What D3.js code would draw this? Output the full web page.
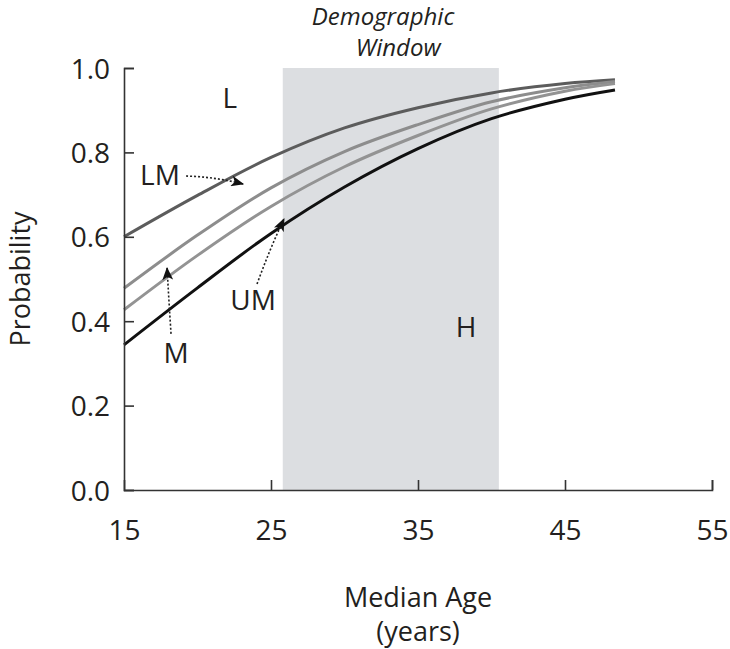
<!DOCTYPE html>
<html>
<head>
<meta charset="utf-8">
<script src="https://cdn.jsdelivr.net/npm/d3@7"></script>
<style>
body { margin: 0; background: #fff; }
text { font-family: "Open Sans", "Liberation Sans", sans-serif; fill: #231f20; }
</style>
</head>
<body>
<div id="chart"></div>
<script>
// median age (years) and probability for each curve
var ages = [15, 20, 25, 30, 35, 40, 45, 48.4];
var curveL  = [0.600, 0.698, 0.788, 0.858, 0.906, 0.941, 0.963, 0.972];
var curveLM = [0.478, 0.604, 0.716, 0.802, 0.866, 0.920, 0.953, 0.968];
var curveM  = [0.427, 0.556, 0.672, 0.766, 0.840, 0.903, 0.945, 0.963];
var curveH  = [0.344, 0.479, 0.608, 0.718, 0.809, 0.880, 0.926, 0.948];

var xTicks = [15, 25, 35, 45, 55];
var yTicks = [0.0, 0.2, 0.4, 0.6, 0.8, 1.0];
var windowRange = [25.8, 40.5];

var W = 730, H = 649;
var mLeft = 124, mRight = 712, mTop = 68, mBottom = 490;

var x = d3.scaleLinear().domain([15, 55]).range([mLeft, mRight]);
var y = d3.scaleLinear().domain([0, 1]).range([mBottom, mTop]);

var svg = d3.select("#chart").append("svg").attr("width", W).attr("height", H);

var defs = svg.append("defs");
defs.append("marker").attr("id", "head")
    .attr("viewBox", "0 0 12 10").attr("refX", 11).attr("refY", 5)
    .attr("markerWidth", 13).attr("markerHeight", 11)
    .attr("markerUnits", "userSpaceOnUse").attr("orient", "auto")
  .append("path").attr("d", "M0,0 L12,5 L0,10 L3,5 Z").attr("fill", "#111");

// demographic window band
svg.append("rect")
    .attr("x", x(windowRange[0])).attr("y", y(1))
    .attr("width", x(windowRange[1]) - x(windowRange[0]))
    .attr("height", y(0) - y(1))
    .attr("fill", "#dcdee1");

svg.append("text").attr("x", x(windowRange[0]) + 29).attr("y", 25)
    .style("font-style", "italic").style("font-size", "24px").text("Demographic");
svg.append("text").attr("x", x(windowRange[0]) + 73).attr("y", 56)
    .style("font-style", "italic").style("font-size", "24px").text("Window");

// curves
var line = d3.line()
    .x(function(d, i) { return x(ages[i]); })
    .y(function(d) { return y(d); })
    .curve(d3.curveCatmullRom);

var series = [
    { vals: curveL,  color: "#5c5c5c" },
    { vals: curveLM, color: "#8d8d8d" },
    { vals: curveM,  color: "#939393" },
    { vals: curveH,  color: "#111111" }
];
svg.selectAll("path.curve").data(series).enter().append("path")
    .attr("class", "curve")
    .attr("d", function(s) { return line(s.vals); })
    .attr("fill", "none")
    .attr("stroke", function(s) { return s.color; })
    .attr("stroke-width", 3);

// axes
var axisColor = "#333";
var xAxis = svg.append("g").attr("transform", "translate(0," + mBottom + ")")
    .call(d3.axisBottom(x).tickValues(xTicks).tickSize(-10).tickPadding(30).tickFormat(d3.format("d")));
var yAxis = svg.append("g").attr("transform", "translate(" + mLeft + ",0)")
    .call(d3.axisLeft(y).tickValues(yTicks).tickSize(-10).tickPadding(14).tickFormat(d3.format(".1f")));

[xAxis, yAxis].forEach(function(a) {
    a.select(".domain").attr("stroke", axisColor).attr("stroke-width", 1.6);
    a.selectAll(".tick line").attr("stroke", axisColor).attr("stroke-width", 1.6);
    a.selectAll(".tick text").style("font-size", "28px").attr("fill", "#231f20")
        .style("font-family", "'Open Sans', sans-serif");
});
xAxis.selectAll(".tick").filter(function(d) { return d === 15; }).select("line").remove();
yAxis.selectAll(".tick text").attr("dy", "0.36em");
xAxis.selectAll(".tick text").attr("dy", "0.71em");

svg.append("text").attr("x", (mLeft + mRight) / 2).attr("y", 607)
    .attr("text-anchor", "middle").style("font-size", "27px").text("Median Age");
svg.append("text").attr("x", (mLeft + mRight) / 2).attr("y", 641)
    .attr("text-anchor", "middle").style("font-size", "27px").text("(years)");
svg.append("text")
    .attr("transform", "translate(30," + y(0.5) + ") rotate(-90)")
    .attr("text-anchor", "middle").style("font-size", "27px").text("Probability");

// curve labels
var labels = [
    { t: "L",  a: 22.2,  p: 0.905 },
    { t: "LM", a: 17.45, p: 0.723 },
    { t: "M",  a: 18.54, p: 0.301 },
    { t: "UM", a: 23.78, p: 0.427 },
    { t: "H",  a: 38.27, p: 0.363 }
];
svg.selectAll("text.lab").data(labels).enter().append("text")
    .attr("class", "lab")
    .attr("x", function(d) { return x(d.a); })
    .attr("y", function(d) { return y(d.p); })
    .attr("text-anchor", "middle").style("font-size", "28px")
    .text(function(d) { return d.t; });

// dotted pointer arrows
var arrows = [
    [[19.22, 0.744], [21.2, 0.742], [23.1, 0.725]],
    [[18.2, 0.370], [18.05, 0.45], [17.93, 0.526]],
    [[24.05, 0.488], [24.9, 0.57], [25.88, 0.642]]
];
svg.selectAll("path.arrow").data(arrows).enter().append("path")
    .attr("class", "arrow")
    .attr("d", function(pts) {
        return "M" + x(pts[0][0]) + "," + y(pts[0][1]) +
            " Q" + x(pts[1][0]) + "," + y(pts[1][1]) +
            " " + x(pts[2][0]) + "," + y(pts[2][1]);
    })
    .attr("fill", "none")
    .attr("stroke", "#222")
    .attr("stroke-width", 1.6)
    .attr("stroke-dasharray", "2,2")
    .attr("marker-end", "url(#head)");
</script>
</body>
</html>
